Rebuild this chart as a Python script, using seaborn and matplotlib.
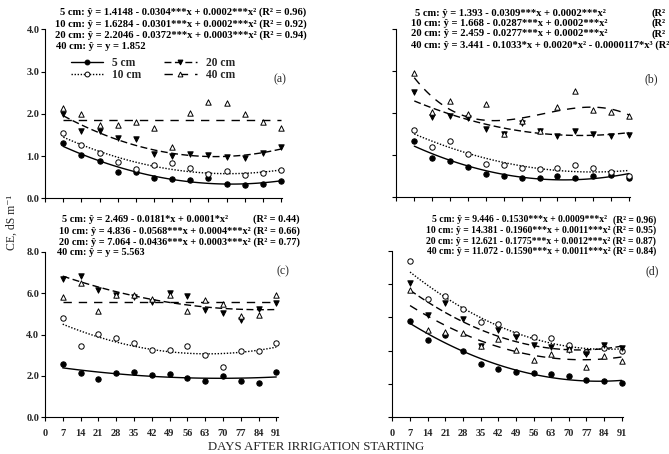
import numpy as np
import matplotlib
matplotlib.use("Agg")
import matplotlib.pyplot as plt
import seaborn as sns
from matplotlib.lines import Line2D

sns.set_style("ticks")
plt.rcParams['font.family'] = ['Liberation Serif', 'DejaVu Serif']

# ---------------- data ----------------
days = [7, 14, 21, 28, 35, 42, 49, 56, 63, 70, 77, 84, 91]
xticks = [0, 7, 14, 21, 28, 35, 42, 49, 56, 63, 70, 77, 84, 91]
depths = ["5 cm", "10 cm", "20 cm", "40 cm"]

a5 = [1.30, 1.02, 0.89, 0.63, 0.62, 0.49, 0.46, 0.43, 0.47, 0.33, 0.31, 0.35, 0.40]
a10 = [1.55, 1.26, 1.08, 0.85, 0.70, 0.78, 0.83, 0.71, 0.58, 0.65, 0.54, 0.59, 0.66]
a20 = [2.00, 1.59, 1.59, 1.42, 1.41, 1.05, 0.99, 1.05, 1.03, 0.98, 0.95, 1.08, 1.21]
a40 = [2.14, 2.00, 1.74, 1.74, 1.81, 1.67, 1.22, 2.03, 2.29, 2.26, 1.99, 1.81, 1.66]
a40_const = 1.852

b5 = [1.34, 0.93, 0.86, 0.72, 0.54, 0.49, 0.45, 0.45, 0.49, 0.45, 0.49, 0.51, 0.44]
b10 = [1.60, 1.18, 1.34, 1.01, 0.77, 0.76, 0.69, 0.66, 0.68, 0.75, 0.69, 0.60, 0.49]
b20 = [2.51, 1.90, 1.94, 1.89, 1.61, 1.51, 1.75, 1.56, 1.45, 1.56, 1.51, 1.45, 1.47]
b40 = [2.95, 2.02, 2.28, 1.98, 2.22, 1.51, 1.82, 1.58, 2.15, 2.53, 2.06, 2.02, 1.94]

c5 = [2.59, 2.14, 1.85, 2.16, 2.19, 2.05, 2.09, 1.92, 1.76, 2.01, 1.74, 1.66, 2.19]
c10 = [4.81, 3.46, 4.01, 3.82, 3.61, 3.24, 3.24, 3.43, 3.00, 2.45, 3.22, 3.19, 3.61]
c20 = [6.70, 6.83, 6.14, 5.93, 5.80, 5.57, 6.01, 5.85, 5.19, 5.02, 4.69, 5.25, 5.51]
c40 = [5.80, 6.49, 5.15, 5.93, 5.93, 5.72, 5.91, 5.14, 5.67, 5.46, 4.88, 4.93, 5.89]
c40_const = 5.563

d5 = [8.70, 6.96, 7.41, 6.00, 4.83, 4.35, 4.08, 3.99, 3.90, 3.72, 3.33, 3.24, 3.06]
d10 = [14.07, 10.68, 10.95, 9.75, 8.61, 8.43, 7.50, 7.26, 7.17, 6.51, 5.88, 6.24, 5.97]
d20 = [12.06, 9.18, 10.26, 8.88, 6.45, 7.86, 7.20, 6.48, 6.36, 6.06, 5.73, 6.48, 6.27]
d40 = [11.46, 7.86, 7.65, 7.56, 6.45, 7.02, 6.06, 5.16, 5.67, 6.15, 4.56, 5.52, 5.04]

eq_a = ["5 cm: ŷ = 1.4148 - 0.0304***x + 0.0002***x² (R² = 0.96)",
        "10 cm: ŷ = 1.6284 - 0.0301***x + 0.0002***x² (R² = 0.92)",
        "20 cm: ŷ = 2.2046 - 0.0372***x + 0.0003***x² (R² = 0.94)",
        "40 cm: ŷ = y = 1.852"]
eq_b = ["5 cm: ŷ = 1.393 - 0.0309***x + 0.0002***x²",
        "10 cm: ŷ = 1.668 - 0.0287***x + 0.0002***x²",
        "20 cm: ŷ = 2.459 - 0.0277***x + 0.0002***x²",
        "40 cm: ŷ = 3.441 - 0.1033*x + 0.0020*x² - 0.0000117*x³ (R²"]
eq_c = ["5 cm: ŷ = 2.469 - 0.0181*x + 0.0001*x²",
        "(R² = 0.44)",
        "10 cm: ŷ = 4.836 - 0.0568***x + 0.0004***x² (R² = 0.66)",
        "20 cm: ŷ = 7.064 - 0.0436***x + 0.0003***x² (R² = 0.77)",
        "40 cm: ŷ = y = 5.563"]
eq_d = ["5 cm: ŷ = 9.446 - 0.1530***x + 0.0009***x²",
        "(R² = 0.96)",
        "10 cm: ŷ = 14.381 - 0.1960***x + 0.0011***x² (R² = 0.95)",
        "20 cm: ŷ = 12.621 - 0.1775***x + 0.0012***x² (R² = 0.87)",
        "40 cm: ŷ = 11.072 - 0.1590***x + 0.0011***x² (R² = 0.84)"]

# ---------------- styles ----------------
W, H = 669, 454
fig = plt.figure(figsize=(W / 100, H / 100), dpi=100)

def fx(x):
    return x / W

def fy(y):
    return 1 - y / H

styles = {
    "5 cm": dict(marker="o", face="black", ls="-"),
    "10 cm": dict(marker="o", face="white", ls=(0, (1, 1.2))),
    "20 cm": dict(marker="v", face="black", ls=(0, (5, 2.5))),
    "40 cm": dict(marker="^", face="white", ls=(0, (6, 5))),
}

def add_panel(x0, x91, ybot, ytop, ymax):
    scale = (x91 - x0) / 91.0
    width = 91.5 * scale
    ax = fig.add_axes([fx(x0), fy(ybot), fx(width), (ybot - ytop) / H])
    ax.set_xlim(0, 91.5)
    ax.set_ylim(0, ymax)
    return ax

def draw_series(ax, y, depth, order=None, const=None):
    st = styles[depth]
    sk = dict(s=15, facecolors=st["face"], edgecolors="black",
              linewidths=0.7, alpha=1, zorder=3, clip_on=False)
    lk = dict(color="black", linewidth=1.0, linestyle=st["ls"])
    if order is not None:
        sns.regplot(x=np.array(days, float), y=np.array(y, float), order=order,
                    ci=None, truncate=True, marker=st["marker"], color="black",
                    scatter_kws=sk, line_kws=lk, ax=ax)
    else:
        sns.regplot(x=np.array(days, float), y=np.array(y, float), fit_reg=False,
                    marker=st["marker"], color="black", scatter_kws=sk, ax=ax)
        ax.hlines(const, min(days), max(days), **lk)

def style_axis(ax, ymax, ystep, show_xl, show_yl):
    sns.despine(ax=ax)
    for s in ["left", "bottom"]:
        ax.spines[s].set_linewidth(0.8)
        ax.spines[s].set_color("black")
    ax.set_xticks(xticks)
    yt = np.arange(0, ymax + 0.001, ystep)
    ax.set_yticks(yt)
    ax.tick_params(axis="both", direction="out", length=3, width=0.8, color="black")
    ax.tick_params(axis="x", pad=5.5)
    ax.tick_params(axis="y", pad=1)
    if show_xl:
        ax.set_xticklabels([str(t) for t in xticks], fontsize=7.5, fontweight="bold")
    else:
        ax.set_xticklabels([])
    if show_yl:
        ax.set_yticklabels([f"{v:.1f}" for v in yt], fontsize=7.5, fontweight="bold")
    else:
        ax.set_yticklabels([])
    ax.set_xlabel("")
    ax.set_ylabel("")

# Panel (a)
ax_a = add_panel(45.2, 281.0, 198.3, 29.3, 4)
draw_series(ax_a, a5, "5 cm", order=2)
draw_series(ax_a, a10, "10 cm", order=2)
draw_series(ax_a, a20, "20 cm", order=2)
draw_series(ax_a, a40, "40 cm", const=a40_const)
style_axis(ax_a, 4, 1, False, True)

# Panel (b)
ax_b = add_panel(396.4, 629.0, 196.7, 29.3, 4)
draw_series(ax_b, b5, "5 cm", order=2)
draw_series(ax_b, b10, "10 cm", order=2)
draw_series(ax_b, b20, "20 cm", order=2)
draw_series(ax_b, b40, "40 cm", order=3)
style_axis(ax_b, 4, 1, False, False)

# Panel (c)
ax_c = add_panel(44.9, 276.3, 417.3, 251.7, 8)
draw_series(ax_c, c5, "5 cm", order=2)
draw_series(ax_c, c10, "10 cm", order=2)
draw_series(ax_c, c20, "20 cm", order=2)
draw_series(ax_c, c40, "40 cm", const=c40_const)
style_axis(ax_c, 8, 2, True, True)

# Panel (d)
ax_d = add_panel(392.4, 621.7, 417.3, 250.7, 15)
draw_series(ax_d, d5, "5 cm", order=2)
draw_series(ax_d, d10, "10 cm", order=2)
draw_series(ax_d, d20, "20 cm", order=2)
draw_series(ax_d, d40, "40 cm", order=2)
style_axis(ax_d, 15, 3, True, False)

# ---------------- equations ----------------
def eqkw(size):
    return dict(fontsize=size, fontweight="bold", va="center", color="black")

# (a)
k = eqkw(7.6)
fig.text(fx(306.7), fy(12.5), eq_a[0], ha="right", **k)
fig.text(fx(306.7), fy(23.8), eq_a[1], ha="right", **k)
fig.text(fx(306.7), fy(35.0), eq_a[2], ha="right", **k)
fig.text(fx(55.7), fy(46.3), eq_a[3], ha="left", **k)
# (b)
k = eqkw(7.6)
for i, yy in enumerate([13.0, 23.5, 34.0]):
    xs = 415 if i == 0 else 411
    fig.text(fx(xs), fy(yy), eq_b[i], ha="left", **k)
    fig.text(fx(651), fy(yy), "(R²", ha="left", **k)
fig.text(fx(411), fy(44.8), eq_b[3], ha="left", **k)
# (c)
k = eqkw(7.4)
fig.text(fx(61.7), fy(219.5), eq_c[0], ha="left", **k)
fig.text(fx(300), fy(219.5), eq_c[1], ha="right", **k)
fig.text(fx(300), fy(230.8), eq_c[2], ha="right", **k)
fig.text(fx(300), fy(241.7), eq_c[3], ha="right", **k)
fig.text(fx(56.7), fy(252.7), eq_c[4], ha="left", **k)
# (d)
k = eqkw(6.95)
fig.text(fx(432.3), fy(220), eq_d[0], ha="left", **k)
fig.text(fx(656), fy(220), eq_d[1], ha="right", **k)
fig.text(fx(656), fy(230.5), eq_d[2], ha="right", **k)
fig.text(fx(656), fy(241), eq_d[3], ha="right", **k)
fig.text(fx(656), fy(251.5), eq_d[4], ha="right", **k)

# panel labels
lblkw = dict(fontsize=8.5, ha="center", va="center")
fig.text(fx(280), fy(79), "(a)", **lblkw)
fig.text(fx(651.5), fy(79), "(b)", **lblkw)
fig.text(fx(283), fy(271), "(c)", **lblkw)
fig.text(fx(651.7), fy(271), "(d)", **lblkw)

# legend in panel (a)
handles = []
for d in depths:
    st = styles[d]
    handles.append(Line2D([], [], color="black", linewidth=1.0, linestyle=st["ls"],
                          marker=st["marker"], markersize=3.5, markerfacecolor=st["face"],
                          markeredgecolor="black", markeredgewidth=0.7))
leg = ax_a.legend(handles, depths, ncol=2, loc="upper left",
                  bbox_to_anchor=(fx(70.5), fy(57.5)), bbox_transform=fig.transFigure,
                  frameon=False, handlelength=2.8, handletextpad=0.8,
                  columnspacing=2.0, labelspacing=-0.05, borderpad=0, borderaxespad=0,
                  prop=dict(family="Liberation Serif", weight="bold", size=8.3))

# axis labels
fig.text(fx(12), fy(222), "CE, dS m⁻¹", rotation=90, ha="center", va="center",
         fontsize=8.5, family=["Liberation Serif", "DejaVu Serif"])
fig.text(fx(316), fy(453.5), "DAYS AFTER IRRIGATION STARTING", ha="center", va="bottom",
         fontsize=9.2)

fig.savefig("out.png", dpi=100)
